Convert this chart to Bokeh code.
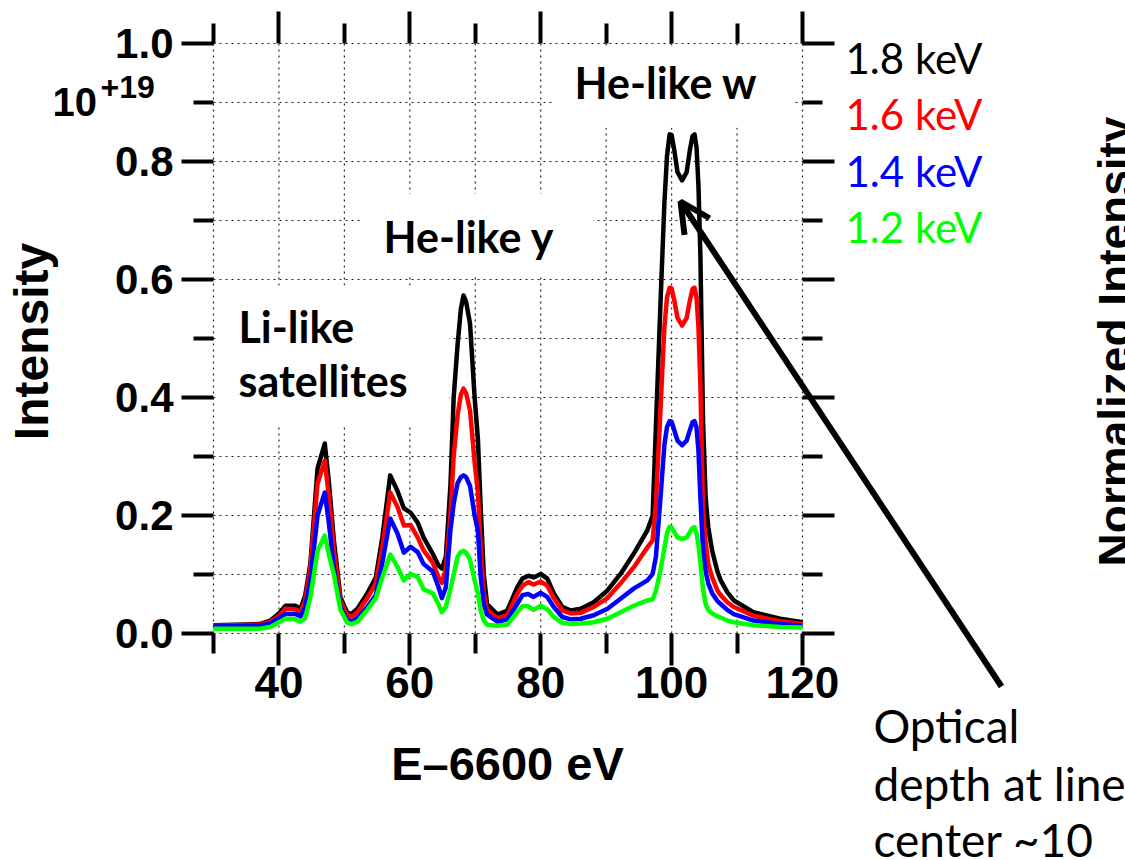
from bokeh.plotting import figure
from bokeh.models import (Range1d, LinearAxis, FixedTicker, Label, Arrow, OpenHead,
                          BoxAnnotation, PrintfTickFormatter)
from bokeh.embed import file_html
from bokeh.resources import INLINE

# Photon energy offset from 6600 eV
energy = [30, 37, 38.7, 40, 41, 42.5, 43.3, 44, 44.8, 45.9,
          47, 47.6, 48.4, 49.4, 50.4, 51.1, 52, 53.5, 54.8, 55.8,
          57, 58.1, 59.1, 60.1, 61.2, 62.1, 63.5, 64.4, 64.9, 65.5,
          66.2, 66.7, 67.3, 67.8, 68.2, 68.6, 69.2, 69.9, 70.4, 70.8,
          71.3, 71.8, 73.4, 74.9, 76.4, 77.2, 78.1, 78.9, 80, 81,
          82, 83.3, 84.6, 86.1, 88.1, 90.2, 92.2, 94.2, 96.3, 97.1,
          97.6, 98.3, 98.9, 99.3, 99.7, 100.0, 100.4, 100.9, 101.6, 102.3,
          102.8, 103.2, 103.5, 103.8, 104.1, 104.4, 104.8, 105.2, 105.6, 106.2,
          107.0, 107.5, 108.5, 109.5, 112.5, 116.6, 120]

# Intensity (units of 1e19) for each electron temperature
te_18 = [0.014, 0.016, 0.022, 0.034, 0.047, 0.047, 0.042, 0.064, 0.118, 0.280,
         0.322, 0.260, 0.157, 0.061, 0.036, 0.033, 0.042, 0.068, 0.095, 0.163,
         0.268, 0.242, 0.212, 0.205, 0.188, 0.163, 0.135, 0.115, 0.110, 0.130,
         0.250, 0.400, 0.490, 0.550, 0.573, 0.562, 0.525, 0.400, 0.330, 0.220,
         0.100, 0.050, 0.032, 0.039, 0.078, 0.093, 0.098, 0.095, 0.101, 0.093,
         0.068, 0.045, 0.039, 0.042, 0.053, 0.073, 0.101, 0.135, 0.175, 0.200,
         0.350, 0.560, 0.730, 0.810, 0.846, 0.845, 0.820, 0.782, 0.768, 0.782,
         0.820, 0.843, 0.846, 0.825, 0.760, 0.640, 0.360, 0.230, 0.180, 0.140,
         0.105, 0.090, 0.070, 0.056, 0.036, 0.025, 0.019]

te_16 = [0.013, 0.015, 0.020, 0.030, 0.042, 0.041, 0.036, 0.056, 0.110, 0.254,
         0.293, 0.235, 0.140, 0.055, 0.031, 0.028, 0.036, 0.060, 0.085, 0.145,
         0.239, 0.215, 0.183, 0.184, 0.163, 0.141, 0.120, 0.095, 0.086, 0.110,
         0.200, 0.300, 0.370, 0.405, 0.415, 0.407, 0.378, 0.290, 0.240, 0.150,
         0.070, 0.040, 0.026, 0.031, 0.067, 0.081, 0.087, 0.083, 0.088, 0.081,
         0.060, 0.039, 0.034, 0.035, 0.045, 0.060, 0.085, 0.112, 0.146, 0.158,
         0.220, 0.380, 0.520, 0.570, 0.586, 0.585, 0.565, 0.535, 0.522, 0.535,
         0.565, 0.584, 0.586, 0.570, 0.520, 0.420, 0.210, 0.155, 0.118, 0.095,
         0.073, 0.065, 0.053, 0.045, 0.030, 0.021, 0.016]

te_14 = [0.012, 0.013, 0.017, 0.026, 0.033, 0.033, 0.029, 0.045, 0.090, 0.200,
         0.239, 0.190, 0.110, 0.045, 0.023, 0.020, 0.026, 0.045, 0.065, 0.120,
         0.195, 0.170, 0.137, 0.147, 0.138, 0.118, 0.105, 0.078, 0.060, 0.078,
         0.175, 0.220, 0.255, 0.265, 0.268, 0.265, 0.250, 0.200, 0.175, 0.100,
         0.050, 0.032, 0.020, 0.024, 0.050, 0.065, 0.067, 0.062, 0.069, 0.062,
         0.045, 0.028, 0.024, 0.025, 0.031, 0.042, 0.059, 0.076, 0.090, 0.101,
         0.130, 0.230, 0.320, 0.350, 0.360, 0.359, 0.345, 0.327, 0.319, 0.327,
         0.345, 0.358, 0.360, 0.350, 0.310, 0.230, 0.140, 0.105, 0.085, 0.068,
         0.055, 0.050, 0.040, 0.033, 0.022, 0.016, 0.013]

te_12 = [0.008, 0.008, 0.011, 0.019, 0.025, 0.024, 0.020, 0.026, 0.061, 0.140,
         0.166, 0.135, 0.100, 0.040, 0.019, 0.016, 0.020, 0.040, 0.060, 0.095,
         0.134, 0.113, 0.090, 0.101, 0.096, 0.075, 0.068, 0.049, 0.036, 0.045,
         0.075, 0.100, 0.130, 0.138, 0.140, 0.137, 0.125, 0.090, 0.068, 0.040,
         0.022, 0.015, 0.013, 0.015, 0.036, 0.046, 0.046, 0.040, 0.047, 0.041,
         0.028, 0.018, 0.016, 0.017, 0.019, 0.025, 0.036, 0.047, 0.056, 0.058,
         0.072, 0.107, 0.145, 0.170, 0.181, 0.180, 0.172, 0.163, 0.160, 0.163,
         0.172, 0.179, 0.180, 0.170, 0.150, 0.120, 0.075, 0.050, 0.040, 0.034,
         0.029, 0.027, 0.022, 0.019, 0.014, 0.011, 0.010]

series_labels = ["1.8 keV", "1.6 keV", "1.4 keV", "1.2 keV"]
series_values = [te_18, te_16, te_14, te_12]
series_colors = ["#000000", "#ff0000", "#0000ff", "#00ff00"]

for s in series_values:
    assert len(s) == len(energy)

x_major = [40, 60, 80, 100, 120]
x_minor = [30, 50, 70, 90, 110]
y_major = [0.0, 0.2, 0.4, 0.6, 0.8, 1.0]
y_minor = [0.1, 0.3, 0.5, 0.7, 0.9]

X0, X1, Y0, Y1 = 30, 120, 0.0, 1.0
# pixel box of the data region on the canvas
LEFT, RIGHT, TOP, BOTTOM = 213, 802, 43, 633
W, H = 1125, 860


def cx(px):
    """canvas pixel column -> data x"""
    return X0 + (px - LEFT) * (X1 - X0) / (RIGHT - LEFT)


def cy(py):
    """canvas pixel row -> data y"""
    return Y0 + (BOTTOM - py) * (Y1 - Y0) / (BOTTOM - TOP)


# the frame fills the whole canvas so that callouts outside the data box are not clipped
p = figure(width=W, height=H,
           x_range=Range1d(cx(0), cx(W)), y_range=Range1d(cy(H), cy(0)),
           output_backend="svg", toolbar_location=None,
           x_axis_location=None, y_axis_location=None,
           min_border=0, min_border_left=0, min_border_right=0,
           min_border_top=0, min_border_bottom=0)
p.outline_line_color = None
p.background_fill_color = "white"
p.border_fill_color = "white"
p.xgrid.visible = False
p.ygrid.visible = False

AX_FONT = "Liberation Sans"

# dotted grid every 10 eV and every 0.1, limited to the data box
gx = sorted(x_major + x_minor)
gy = sorted(y_major + y_minor)
p.segment(x0=gx, y0=[Y0] * len(gx), x1=gx, y1=[Y1] * len(gx),
          line_color="#222222", line_width=1.2, line_dash="2 4", level="underlay")
p.segment(x0=[X0] * len(gy), y0=gy, x1=[X1] * len(gy), y1=gy,
          line_color="#222222", line_width=1.2, line_dash="2 4", level="underlay")


def make_axis(ticks, minor, loc, show_labels, size=None):
    ax = LinearAxis(fixed_location=loc,
                    ticker=FixedTicker(ticks=ticks, minor_ticks=minor))
    ax.axis_line_color = None
    ax.major_tick_line_color = "black"
    ax.minor_tick_line_color = "black"
    ax.major_tick_line_width = 4
    ax.minor_tick_line_width = 4
    ax.major_tick_in = 0
    ax.minor_tick_in = 0
    ax.major_tick_out = 32
    ax.minor_tick_out = 20
    ax.major_label_text_font = AX_FONT
    ax.major_label_text_font_style = "bold"
    ax.major_label_text_color = "black"
    if show_labels:
        ax.major_label_text_font_size = size
    else:
        ax.major_label_text_font_size = "0px"
        ax.major_label_overrides = {t: "" for t in ticks}
    return ax


xax = make_axis(x_major, x_minor, Y0, True, "44px")
xax.major_label_standoff = 1
p.add_layout(xax, "below")

yax = make_axis(y_major, y_minor, X0, True, "42px")
yax.major_label_standoff = 8
yax.formatter = PrintfTickFormatter(format="%.1f")
p.add_layout(yax, "left")

p.add_layout(make_axis(x_major, x_minor, Y1, False), "above")
p.add_layout(make_axis(y_major, y_minor, X1, False), "right")

# white panels behind the in-plot annotations
for l, r, b, t in [(82.0, 118.5, 0.857, 0.996),
                   (52.5, 88.0, 0.606, 0.745),
                   (30.3, 66.0, 0.355, 0.590)]:
    p.add_layout(BoxAnnotation(left=l, right=r, bottom=b, top=t, fill_color="white",
                               fill_alpha=1.0, line_color=None, level="glyph"))

# spectra
for vals, col in zip(series_values, series_colors):
    p.line(energy, vals, line_color=col, line_width=4.5, line_join="round")

# labels are anchored a little below their alphabetic baseline; lift them by this
# fraction of the font size so the baseline lands on the requested pixel row
BASE_SHIFT = 0.4


def add_text(text, px, py, size, font=AX_FONT, style="bold", color="black",
             align="left", rotated=False):
    if rotated:
        x, y, angle = px - BASE_SHIFT * size, py, 1.5708
    else:
        x, y, angle = px, py - BASE_SHIFT * size, 0.0
    p.add_layout(Label(x=cx(x), y=cy(y), text=text, text_font=font,
                       text_font_style=style, text_font_size=f"{size}px",
                       text_color=color, text_align=align,
                       text_baseline="alphabetic", angle=angle))


# line identifications
add_text("He-like w", 574, 99, 43, font="Lato")
add_text("He-like y", 383, 253, 43, font="Lato")
add_text("Li-like", 238, 343, 43, font="Lato")
add_text("satellites", 238, 397, 43, font="Lato")

# temperature key
for i, (lab, col) in enumerate(zip(series_labels, series_colors)):
    add_text(lab, 845, 74 + i * 56.5, 42, font="Lato", style="normal", color=col)

# axis titles and scale factor
add_text("E\u20136600 eV", 507, 782, 47, align="center")
add_text("Intensity", 50, 341, 48, align="center", rotated=True)
add_text("10", 52, 117, 40)
add_text("+19", 100, 99, 32)
add_text("Normalized Intensity", 1133, 341, 46, align="center", rotated=True)

# optical-depth callout
add_text("Optical", 873, 743, 46, font="Lato", style="normal")
add_text("depth at line", 873, 801, 46, font="Lato", style="normal")
add_text("center ~10", 873, 857, 46, font="Lato", style="normal")
p.add_layout(Arrow(x_start=cx(1001), y_start=cy(686), x_end=cx(680), y_end=cy(201),
                   line_width=6, line_color="black",
                   end=OpenHead(size=30, line_width=6, line_color="black")))

open("out.html", "w").write(file_html(p, INLINE))
